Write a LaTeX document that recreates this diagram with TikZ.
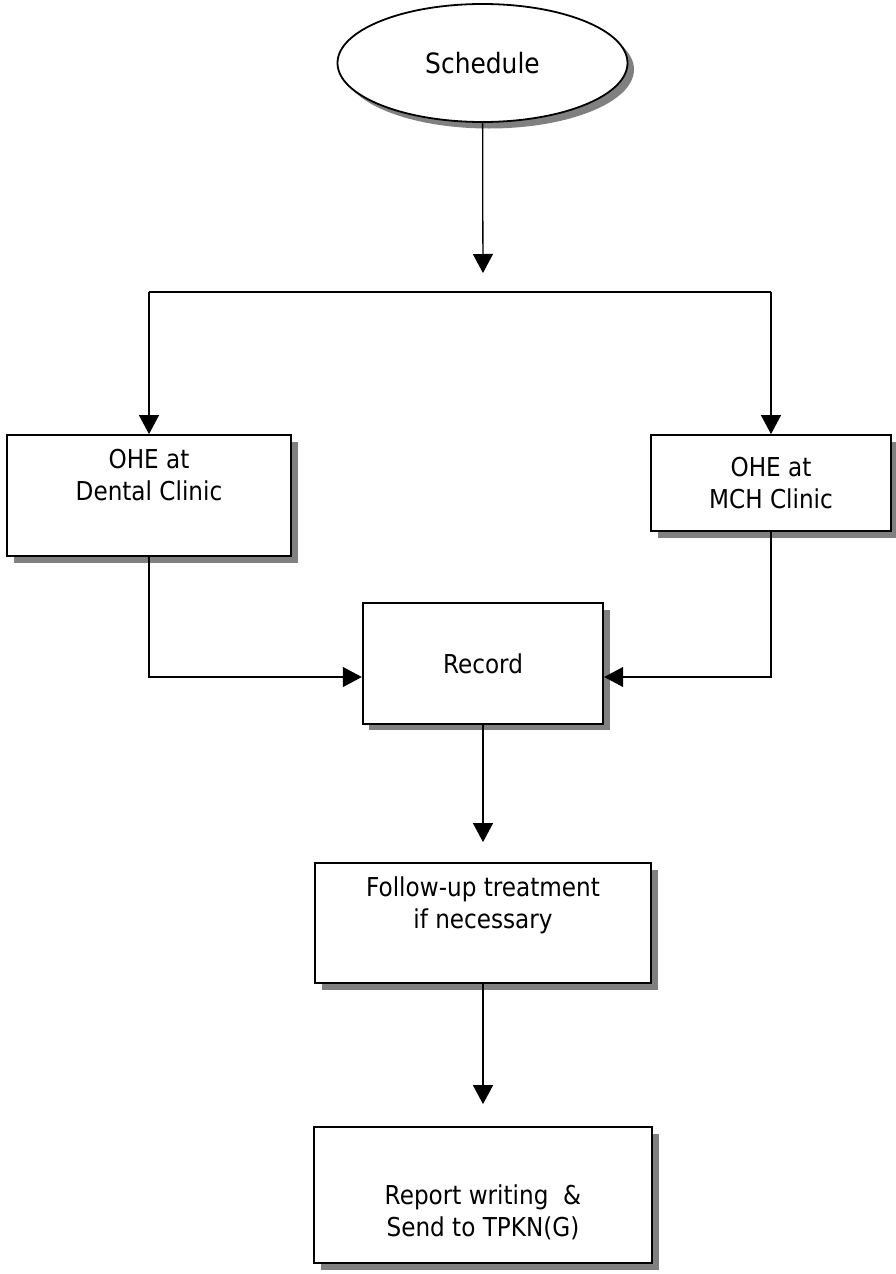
\documentclass[tikz,border=0pt]{standalone}
\usepackage{fontspec}
\setmainfont{DejaVu Sans}[FakeStretch=0.89]
\usetikzlibrary{arrows.meta,shadows,shapes.geometric}

\tikzset{
  box/.style={draw, line width=1.8pt, fill=white, align=center, inner sep=0pt,
    font=\fontsize{26}{32}\selectfont,
    drop shadow={shadow xshift=6.5pt, shadow yshift=-6.5pt, fill=black!50, opacity=1}},
  arr/.style={line width=1.3pt, -{Triangle[length=19pt,width=20pt]}},
  link/.style={line width=1.3pt}
}

\begin{document}
\begin{tikzpicture}[x=1pt, y=-1pt]
    \useasboundingbox[fill=white] (0,0) rectangle (896,1274);

    % Boxes
    \node[box, ellipse, minimum width=290, minimum height=118,
          font=\fontsize{28}{34}\selectfont] (sched) at (482.5,63) {Schedule};
    \node[box, minimum width=284, minimum height=121] (dental) at (149,495.5)
        {OHE at\\Dental Clinic\\\strut};
    \node[box, minimum width=240, minimum height=96] (mch) at (771,483)
        {OHE at\\MCH Clinic};
    \node[box, minimum width=240.6, minimum height=120.7] (record) at (483,663.5) {Record};
    \node[box, minimum width=336, minimum height=120] (follow) at (483,923)
        {Follow-up treatment\\if necessary\\\strut};
    \node[box, minimum width=338, minimum height=136] (report) at (483,1195)
        {\strut\\Report writing~ \&\\Send to TPKN(G)};

    % Split after schedule
    \coordinate (split) at (483,292);
    \draw[arr, shorten >=19pt] (sched) -- (split);
    \draw[link] (dental.north |- split) -- (mch.north |- split);
    \draw[arr] (dental.north |- split) -- (dental);
    \draw[arr] (mch.north |- split) -- (mch);

    % Into record
    \draw[arr] (dental) |- ([yshift=-13.5pt]record.west);
    \draw[arr] (mch) |- ([yshift=-13.5pt]record.east);

    % Down to the end
    \draw[arr, shorten >=20pt] (record) -- (follow);
    \draw[arr, shorten >=22pt] (follow) -- (report);

\end{tikzpicture}
\end{document}
